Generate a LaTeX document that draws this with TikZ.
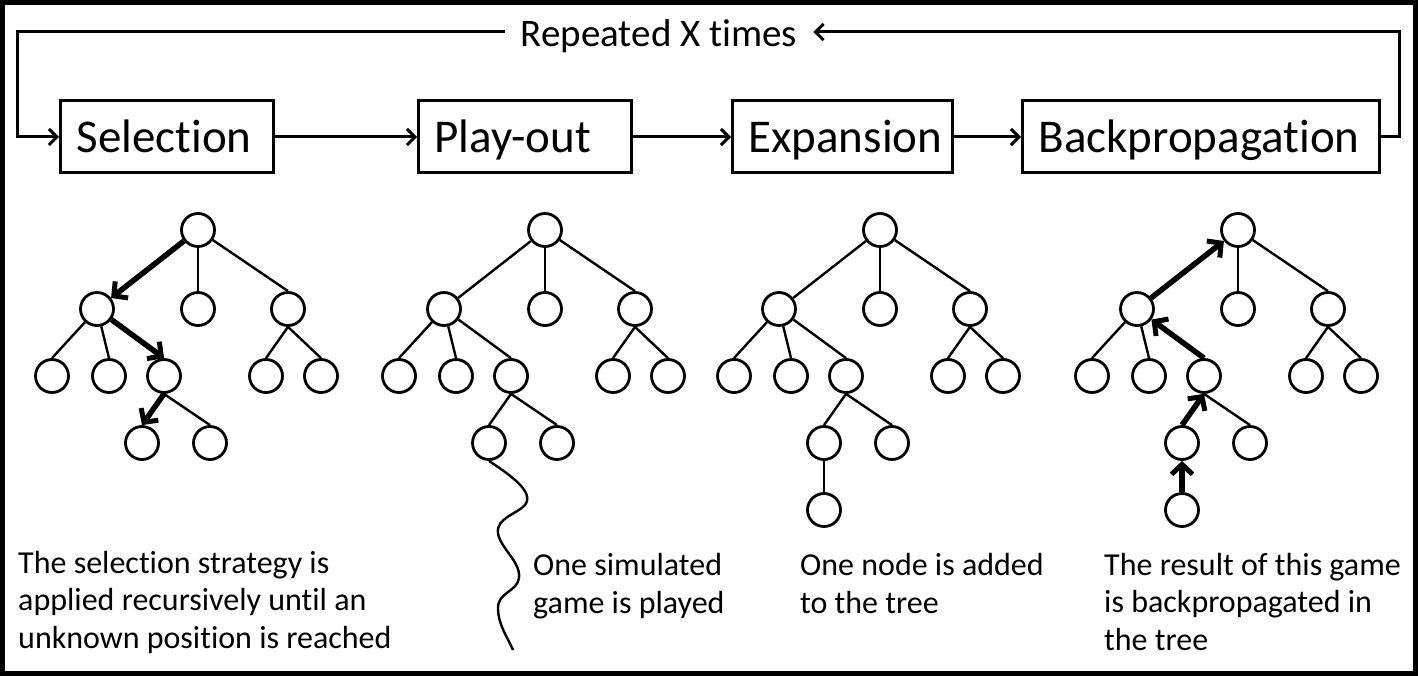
\documentclass[tikz,border=0pt]{standalone}
\usepackage{fontspec}
\setmainfont{Carlito}[Ligatures={NoCommon}]
\usetikzlibrary{arrows.meta}
\tikzset{
  tn/.style={circle,draw,line width=2.8pt,minimum size=33pt,inner sep=0pt},
  tline/.style={line width=2.4pt},
  tarrow/.style={line width=5.5pt,-{Straight Barb[length=10pt,width=21pt,line width=5pt]}},
  conn/.style={line width=3pt,-{Straight Barb[length=8pt,width=16pt]}},
  stage/.style={draw,line width=3pt,minimum height=72pt,inner xsep=16pt,inner ysep=0pt,
    align=left,font=\fontsize{47}{56}\selectfont,text height=32pt,text depth=0pt,anchor=west},
  note/.style={anchor=base west,align=left,inner sep=0pt,font=\fontsize{32}{37.5}\selectfont},
}
\newcommand\mctsbase[2]{%
  \node[tn] (#1r) at (198+#2,230) {};
  \node[tn] (#1a) at (97+#2,309) {};
  \node[tn] (#1b) at (198+#2,309) {};
  \node[tn] (#1c) at (288+#2,309) {};
  \node[tn] (#1a1) at (52+#2,376) {};
  \node[tn] (#1a2) at (109+#2,376) {};
  \node[tn] (#1a3) at (164+#2,376) {};
  \node[tn] (#1c1) at (266+#2,376) {};
  \node[tn] (#1c2) at (321+#2,376) {};
  \node[tn] (#1d1) at (142+#2,443) {};
  \node[tn] (#1d2) at (210+#2,443) {};
  \draw[tline] (#1r) -- (#1b);
  \draw[tline] (#1r) -- (#1c.north);
  \draw[tline] (#1a) -- (#1a1.north);
  \draw[tline] (#1a) -- (#1a2.north);
  \draw[tline] (#1c.south) -- (#1c1.north);
  \draw[tline] (#1c.south) -- (#1c2.north);
  \draw[tline] (#1a3.south) -- (#1d2.north);
}
\begin{document}
\begin{tikzpicture}[x=1pt,y=-1pt]
\useasboundingbox (0,0) rectangle (1418,676);
\draw[line width=5pt] (2.5,2.5) rectangle (1415.5,673.5);

% stages
\node[stage,text width=181pt] (sel) at (59,137) {Selection};
\node[stage,text width=181pt] (po) at (417,137) {Play-out};
\node[stage,text width=188pt] (ex) at (731,137) {Expansion};
\node[stage,text width=325pt] (bp) at (1021,137) {Backpropagation};
\draw[conn] (sel) -- (po);
\draw[conn] (po) -- (ex);
\draw[conn] (ex) -- (bp);

% loop
\node[font=\fontsize{39}{46}\selectfont,inner xsep=16pt,inner ysep=0pt,text height=30pt,text depth=0pt] (rep) at (659,32) {Repeated X times};
\coordinate (rc) at (1399,32);
\coordinate (lc) at (17,32);
\draw[conn] (bp.east) -| (rc) -- (rep.east);
\draw[conn] (rep.west) -- (lc) |- (sel.west);

% tree 1: selection
\mctsbase{s}{0}
\draw[tarrow] (sr) -- (sa);
\draw[tarrow] (sa) -- (sa3.north);
\draw[tarrow] (sa3.south) -- (sd1.north);

% tree 2: play-out
\mctsbase{p}{347}
\draw[tline] (pr) -- (pa);
\draw[tline] (pa) -- (pa3.north);
\draw[tline] (pa3.south) -- (pd1.north);
\coordinate (sq) at (513,650);
\draw[line width=2.4pt] (pd1.south) .. controls (510,475) and (535,492) .. (525,505)
  .. controls (517,514) and (496,518) .. (498,533)
  .. controls (500,548) and (521,562) .. (519,578)
  .. controls (517,592) and (498,592) .. (498,608)
  .. controls (498,625) and (508,638) .. (sq);

% tree 3: expansion
\mctsbase{e}{682}
\draw[tline] (er) -- (ea);
\draw[tline] (ea) -- (ea3.north);
\draw[tline] (ea3.south) -- (ed1.north);
\node[tn] (en) at (824,510) {};
\draw[tline] (ed1) -- (en);

% tree 4: backpropagation
\mctsbase{b}{1040}
\node[tn] (bn) at (1182,510) {};
\draw[tarrow] (bn) -- (bd1);
\draw[tarrow] (bd1.north) -- (ba3.south);
\draw[tarrow] (ba3.north) -- (ba);
\draw[tarrow] (ba) -- (br);

% notes (base anchor = baseline of last line)
\node[note] (t1) at (18,648) {The selection strategy is\\applied recursively until an\\unknown position is reached};
\node[note] (t2) at (533,613) {One simulated\\game is played};
\node[note] (t3) at (800,613) {One node is added\\to the tree};
\node[note] (t4) at (1104,650) {The result of this game\\is backpropagated in\\the tree};
\end{tikzpicture}
\end{document}
